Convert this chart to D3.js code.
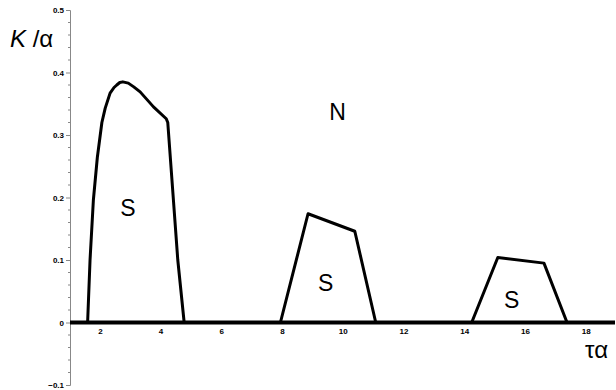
<!DOCTYPE html>
<html>
<head>
<meta charset="utf-8">
<script src="https://cdn.jsdelivr.net/npm/d3@7"></script>
<style>
  body { margin: 0; background: #fff; }
  svg { display: block; font-family: Arial, "Liberation Sans", sans-serif; }
</style>
</head>
<body>
<div id="chart"></div>
<script>
// values: tau*alpha vs K/alpha boundary of S regions
const peak1 = [
  [1.58, 0], [1.66, 0.1], [1.77, 0.196], [1.90, 0.264], [2.05, 0.32], [2.16, 0.343],
  [2.32, 0.367], [2.45, 0.376], [2.54, 0.38], [2.64, 0.384], [2.74, 0.385], [2.92, 0.383],
  [3.1, 0.377], [3.31, 0.369], [3.75, 0.345], [4.17, 0.326], [4.22, 0.32], [4.55, 0.1], [4.76, 0]
];
const peak2 = [[7.93, 0], [8.84, 0.174], [10.38, 0.146], [11.07, 0]];
const peak3 = [[14.23, 0], [15.09, 0.104], [16.61, 0.095], [17.37, 0]];

const xTicks = [2, 4, 6, 8, 10, 12, 14, 16, 18];
const yTicks = [-0.1, 0, 0.1, 0.2, 0.3, 0.4, 0.5];
const regionLabels = [
  { t: 'S', x: 2.91, y: 0.184 },
  { t: 'S', x: 9.42, y: 0.064 },
  { t: 'S', x: 15.55, y: 0.036 },
  { t: 'N', x: 9.81, y: 0.337 }
];

const w = 616;
const h = 390;

const svg = d3.select('#chart')
  .append('svg')
  .attr('width', w)
  .attr('height', h);

const x = d3.scaleLinear().domain([1, 18.95]).range([70, 615]);
const y = d3.scaleLinear().domain([-0.1, 0.5]).range([385, 10]);

// y axis, thin grey line with minor ticks
const yAxis = d3.axisLeft(y)
  .tickValues(yTicks)
  .tickSize(4)
  .tickPadding(2)
  .tickFormat(d => d === 0 ? '0' : d3.format('.1f')(d));

const gy = svg.append('g')
  .attr('transform', `translate(${x(1)},0)`)
  .call(yAxis);
gy.select('.domain').attr('stroke', '#888');
gy.selectAll('.tick line').attr('stroke', '#888');
gy.selectAll('.tick text')
  .attr('font-size', 8)
  .attr('font-weight', 'bold')
  .attr('fill', '#000');

const minor = d3.range(-0.1, 0.5001, 0.02).filter(v => Math.abs(Math.round(v * 10) - v * 10) > 1e-6);
svg.append('g')
  .selectAll('line')
  .data(minor)
  .enter()
  .append('line')
  .attr('x1', x(1) - 2)
  .attr('x2', x(1))
  .attr('y1', d => y(d))
  .attr('y2', d => y(d))
  .attr('stroke', '#888');

// thick x axis at zero
svg.append('line')
  .attr('x1', x(1))
  .attr('x2', 615)
  .attr('y1', y(0))
  .attr('y2', y(0))
  .attr('stroke', '#000')
  .attr('stroke-width', 4);

svg.append('g')
  .selectAll('text')
  .data(xTicks)
  .enter()
  .append('text')
  .attr('x', d => x(d))
  .attr('y', y(0) + 11)
  .attr('text-anchor', 'middle')
  .attr('font-size', 8)
  .attr('font-weight', 'bold')
  .text(d => d);

// boundary curves
const line = d3.line().x(d => x(d[0])).y(d => y(d[1]));

[peak1, peak2, peak3].forEach(p => {
  svg.append('path')
    .attr('d', line(p))
    .attr('fill', 'none')
    .attr('stroke', '#000')
    .attr('stroke-width', 3)
    .attr('stroke-linejoin', 'round');
});

svg.append('g')
  .selectAll('text')
  .data(regionLabels)
  .enter()
  .append('text')
  .attr('x', d => x(d.x))
  .attr('y', d => y(d.y))
  .attr('text-anchor', 'middle')
  .attr('dominant-baseline', 'central')
  .attr('font-size', 23)
  .text(d => d.t);

// axis titles
const yt = svg.append('text')
  .attr('x', 10)
  .attr('y', 47)
  .attr('font-size', 24);
yt.append('tspan').attr('font-style', 'italic').text('K');
yt.append('tspan').text(' /α');

svg.append('text')
  .attr('x', 585)
  .attr('y', 358)
  .attr('font-size', 24)
  .text('τα');
</script>
</body>
</html>
